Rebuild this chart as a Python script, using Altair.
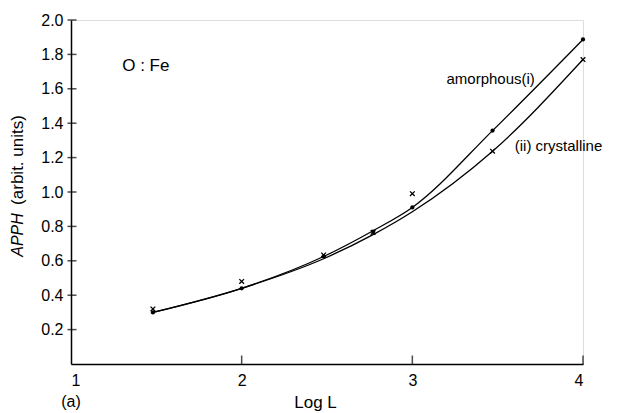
import altair as alt
import pandas as pd

# data
log_l = [1.48, 2.0, 2.48, 2.77, 3.0, 3.47, 4.0]
amorph_pts = [0.30, 0.44, 0.625, 0.77, 0.91, 1.357, 1.887]
cryst_pts = [0.32, 0.48, 0.634, 0.765, 0.99, 1.237, 1.77]
amorph_curve = [0.30, 0.44, 0.625, 0.775, 0.91, 1.357, 1.887]
cryst_curve = [0.30, 0.44, 0.612, 0.752, 0.885, 1.237, 1.77]
x_ticks = [1, 2, 3, 4]
y_ticks = [0.2, 0.4, 0.6, 0.8, 1.0, 1.2, 1.4, 1.6, 1.8, 2.0]

FONT = "Liberation Sans"

xs = alt.Scale(domain=[1, 4], nice=False, zero=False)
ys = alt.Scale(domain=[0, 2.0], nice=False, zero=False)

x_axis = alt.Axis(values=x_ticks, format="d", ticks=False, grid=False,
                  domainColor="black", domainWidth=1.5, labelFont=FONT,
                  labelFontSize=16, labelColor="black", labelPadding=8,
                  labelOverlap=False,
                  title="Log L", titleFont=FONT, titleFontSize=17,
                  titleFontWeight="normal", titleColor="black",
                  titleX=244, titleY=38, titleBaseline="middle")
y_axis = alt.Axis(values=y_ticks, format=".1f", ticks=False, grid=False,
                  domainColor="black", domainWidth=1.5, labelFont=FONT,
                  labelFontSize=16, labelColor="black", labelPadding=8,
                  labelOverlap=False, labelBound=False, labelFlush=False,
                  title=None)


def X():
    return alt.X("x:Q", scale=xs, axis=x_axis)


def Y():
    return alt.Y("y:Q", scale=ys, axis=y_axis)


curves = pd.DataFrame({
    "x": log_l * 2,
    "y": amorph_curve + cryst_curve,
    "s": ["amorphous"] * len(log_l) + ["crystalline"] * len(log_l),
})
dots = pd.DataFrame({"x": log_l, "y": amorph_pts})
crosses = pd.DataFrame({"x": log_l, "y": cryst_pts})

lines = alt.Chart(curves).mark_line(
    color="black", strokeWidth=1.3, interpolate="monotone"
).encode(x=X(), y=Y(), detail="s:N")

dot_layer = alt.Chart(dots).mark_point(
    shape="circle", filled=True, color="black", size=18, opacity=1
).encode(x=X(), y=Y())

cross_layer = alt.Chart(crosses).mark_point(
    shape="M-1,-1L1,1M1,-1L-1,1", filled=False, color="black", size=22,
    strokeWidth=1.3, opacity=1
).encode(x=X(), y=Y())

ytick_df = pd.DataFrame({"x": [1.0] * len(y_ticks), "y": y_ticks})
ytick_layer = alt.Chart(ytick_df).mark_tick(
    orient="horizontal", color="black", size=9, thickness=1.5, xOffset=1
).encode(x=X(), y=Y())

xtick_df = pd.DataFrame({"x": x_ticks[1:], "y": [0.0] * 3})
xtick_layer = alt.Chart(xtick_df).mark_tick(
    orient="vertical", color="black", size=9, thickness=1.5, yOffset=-4
).encode(x=X(), y=Y())

ann = pd.DataFrame({
    "x": [1.30, 3.20, 3.60],
    "y": [1.73, 1.655, 1.265],
    "t": ["O : Fe", "amorphous(i)", "(ii) crystalline"],
    "fs": [17, 15, 15],
})
ann_layer = alt.Chart(ann).mark_text(
    align="left", baseline="middle", font=FONT, color="black"
).encode(
    x=X(), y=Y(),
    text="t:N", size=alt.Size("fs:Q", scale=None, legend=None),
)

lab_a = alt.Chart(pd.DataFrame({"t": ["(a)"]})).mark_text(
    font=FONT, fontSize=16, color="black", align="center", baseline="middle"
).encode(x=alt.value(0), y=alt.value(382), text="t:N")

ytitle1 = alt.Chart(pd.DataFrame({"t": ["(arbit. units)"]})).mark_text(
    font=FONT, fontSize=17, color="black", angle=270, align="center",
    baseline="middle"
).encode(x=alt.value(-53), y=alt.value(140), text="t:N")
ytitle2 = alt.Chart(pd.DataFrame({"t": ["APPH"]})).mark_text(
    font=FONT, fontSize=16, color="black", angle=270, align="center",
    baseline="middle", fontStyle="italic"
).encode(x=alt.value(-53), y=alt.value(215), text="t:N")

chart = alt.layer(
    lines, dot_layer, cross_layer, ytick_layer, xtick_layer, ann_layer,
    lab_a, ytitle1, ytitle2
).properties(
    width=512, height=344,
    autosize=alt.AutoSizeParams(type="none"),
    padding={"left": 71, "top": 20, "right": 34, "bottom": 49},
).configure_view(stroke=None).configure(background="white")

chart.save("out.html", embed_options={"renderer": "svg", "actions": False})
